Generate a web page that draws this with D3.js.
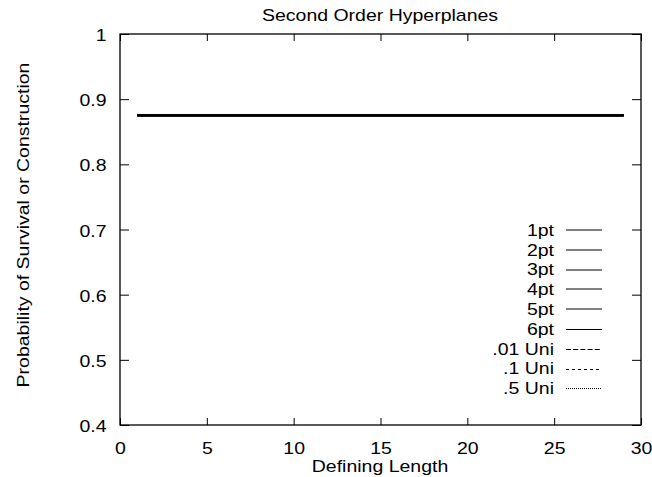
<!DOCTYPE html>
<html lang="en">
<head>
    <meta charset="UTF-8">
    <title>Second Order Hyperplanes</title>
    <script src="https://d3js.org/d3.v7.min.js"></script>
    <style>
        body { margin: 0; background: #fff; }
        text { font-family: "Liberation Sans", Arial, Helvetica, sans-serif; fill: #000; }
    </style>
</head>
<body>
    <div id="chart"></div>

    <script>
        // Data
        const definingLength = [1, 2, 3, 4, 5, 6, 7, 8, 9, 10, 11, 12, 13, 14, 15,
            16, 17, 18, 19, 20, 21, 22, 23, 24, 25, 26, 27, 28, 29];
        const survival = [0.875, 0.875, 0.875, 0.875, 0.875, 0.875, 0.875, 0.875, 0.875, 0.875,
            0.875, 0.875, 0.875, 0.875, 0.875, 0.875, 0.875, 0.875, 0.875, 0.875,
            0.875, 0.875, 0.875, 0.875, 0.875, 0.875, 0.875, 0.875, 0.875];
        const seriesNames = ["1pt", "2pt", "3pt", "4pt", "5pt", "6pt", ".01 Uni", ".1 Uni", ".5 Uni"];
        const xTicks = [0, 5, 10, 15, 20, 25, 30];
        const yTicks = [0.4, 0.5, 0.6, 0.7, 0.8, 0.9, 1];
        const yTickLabels = ["0.4", "0.5", "0.6", "0.7", "0.8", "0.9", "1"];

        // chart setup
        const W = 652, H = 477;
        const plotLeft = 120, plotRight = 641, plotTop = 34, plotBottom = 425;
        const fontSize = 16.8;
        const stretch = "scale(1.16,1)"; // glyphs in the original are a bit wide

        const svg = d3.select("#chart").append("svg")
            .attr("width", W)
            .attr("height", H);

        svg.append("rect").attr("width", W).attr("height", H).attr("fill", "#fff");

        const x = d3.scaleLinear().domain([0, 30]).range([plotLeft, plotRight]);
        const y = d3.scaleLinear().domain([0.4, 1]).range([plotBottom, plotTop]);

        // axes, gnuplot style: ticks inside, mirrored
        const xAxis = svg.append("g")
            .attr("transform", "translate(0," + plotBottom + ")")
            .call(d3.axisBottom(x).tickValues(xTicks).tickSizeInner(-7).tickSizeOuter(0));
        const xTop = svg.append("g")
            .attr("transform", "translate(0," + plotTop + ")")
            .call(d3.axisTop(x).tickValues(xTicks).tickSizeInner(-7).tickSizeOuter(0).tickFormat(""));
        const yAxis = svg.append("g")
            .attr("transform", "translate(" + plotLeft + ",0)")
            .call(d3.axisLeft(y).tickValues(yTicks).tickSizeInner(-9).tickSizeOuter(0)
                .tickFormat((d, i) => yTickLabels[i]));
        const yRight = svg.append("g")
            .attr("transform", "translate(" + plotRight + ",0)")
            .call(d3.axisRight(y).tickValues(yTicks).tickSizeInner(-9).tickSizeOuter(0).tickFormat(""));

        [xAxis, xTop, yAxis, yRight].forEach(a => {
            a.select(".domain").remove();
            a.attr("font-size", fontSize).attr("font-family", null);
            a.selectAll("line").attr("stroke", "#000").attr("stroke-width", 1);
        });

        xAxis.selectAll("text")
            .attr("y", 28.6).attr("dy", null)
            .attr("transform", stretch);

        yAxis.selectAll("text")
            .attr("x", 0).attr("dy", null)
            .attr("text-anchor", "end")
            .attr("transform", "translate(-13.5,6.6) " + stretch);

        // frame
        svg.append("rect")
            .attr("x", plotLeft).attr("y", plotTop)
            .attr("width", plotRight - plotLeft).attr("height", plotBottom - plotTop)
            .attr("fill", "none")
            .attr("stroke", "#000")
            .attr("stroke-width", 1.3);

        // series lines (all overlap at the same value)
        const line = d3.line()
            .x((d, i) => x(definingLength[i]))
            .y(d => y(d));

        seriesNames.forEach(() => {
            svg.append("path")
                .datum(survival)
                .attr("fill", "none")
                .attr("stroke", "#000")
                .attr("stroke-width", 1.8)
                .attr("d", line);
        });

        // legend
        const dashes = [null, null, null, null, null, null, "5,2.2", "3,3", "1,1"];
        const legendTop = 230, legendStep = 19.8;
        const legend = svg.append("g").attr("font-size", fontSize);
        seriesNames.forEach((name, i) => {
            const ly = legendTop + i * legendStep;
            const lineY = i < 5 ? Math.round(ly) : Math.round(ly) + 0.5;
            legend.append("text")
                .attr("text-anchor", "end")
                .attr("transform", "translate(554," + (ly + 5.8) + ") " + stretch)
                .text(name);
            legend.append("line")
                .attr("x1", 566).attr("x2", 602)
                .attr("y1", lineY)
                .attr("y2", lineY)
                .attr("stroke", "#000")
                .attr("stroke-width", 1)
                .attr("stroke-dasharray", dashes[i]);
        });

        // titles
        svg.append("text")
            .attr("font-size", fontSize)
            .attr("text-anchor", "middle")
            .attr("transform", "translate(380,20.5) " + stretch)
            .text("Second Order Hyperplanes");

        svg.append("text")
            .attr("font-size", fontSize)
            .attr("text-anchor", "middle")
            .attr("transform", "translate(380,471.5) " + stretch)
            .text("Defining Length");

        svg.append("text")
            .attr("font-size", fontSize)
            .attr("text-anchor", "middle")
            .attr("transform", "translate(29,225) rotate(-90) " + stretch)
            .text("Probability of Survival or Construction");
    </script>
</body>
</html>
